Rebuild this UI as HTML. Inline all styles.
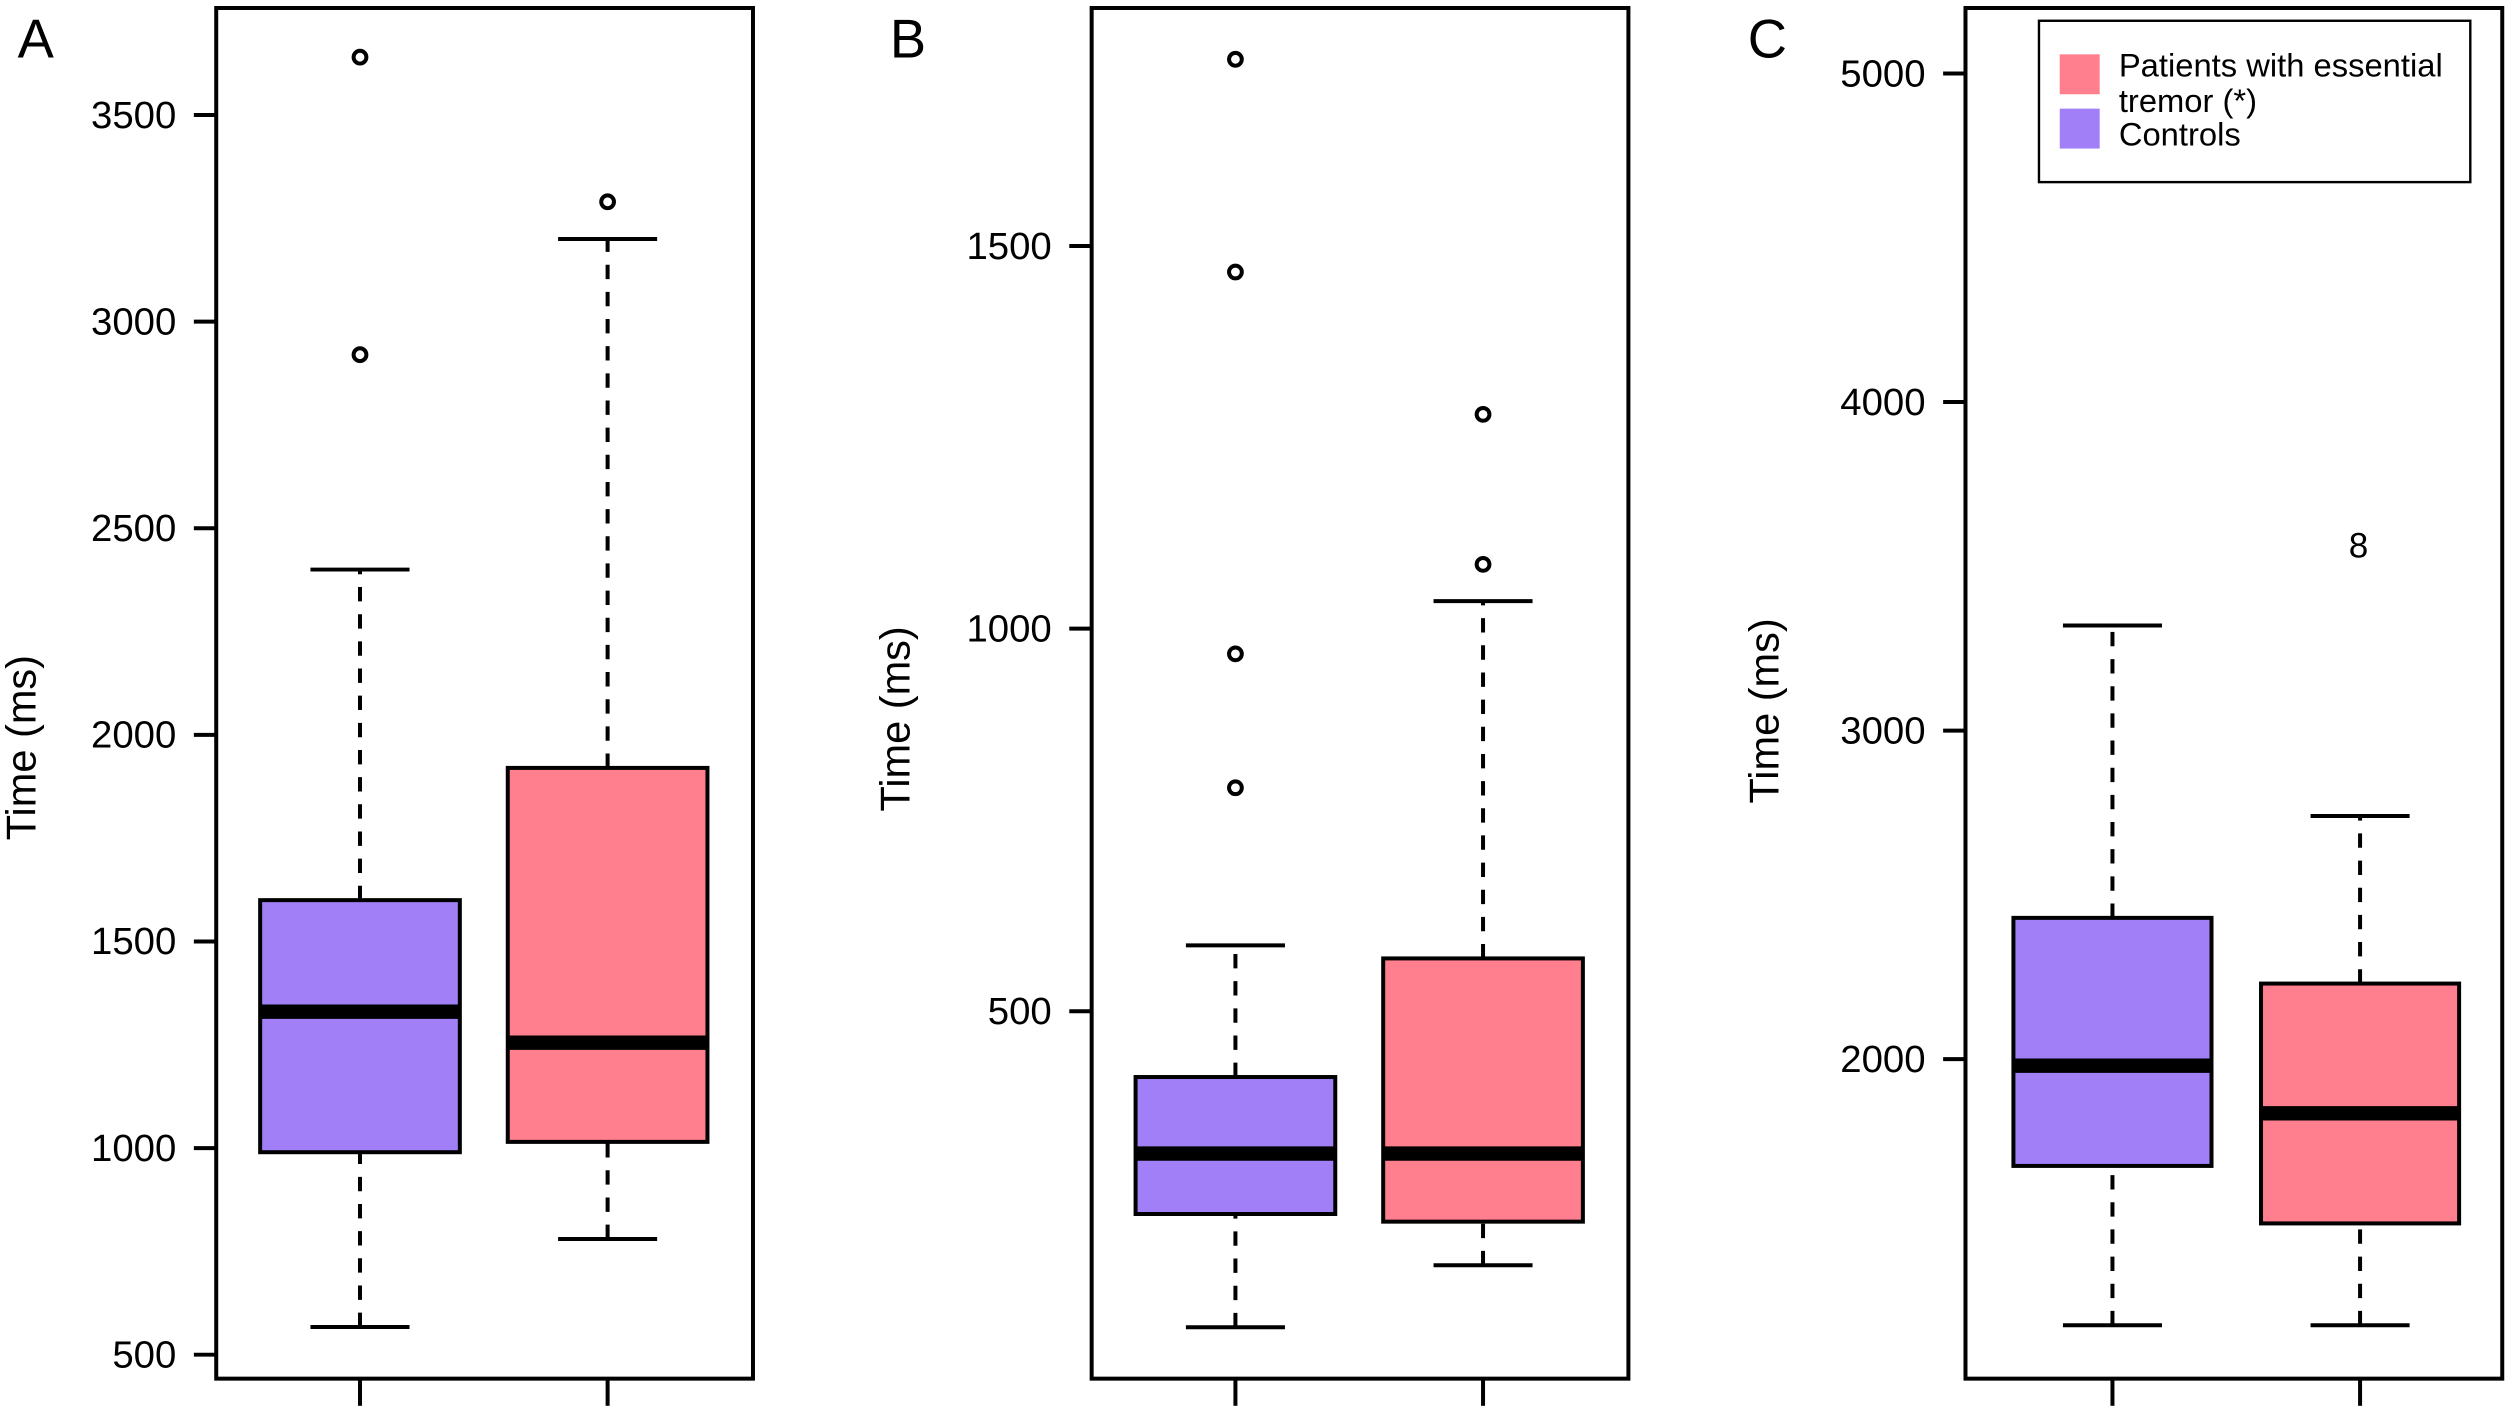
<!DOCTYPE html>
<html><head><meta charset="utf-8"><style>
html,body{margin:0;padding:0;background:#fff}
svg{display:block}
text{font-family:"Liberation Sans",sans-serif;fill:#000}
</style></head><body>
<svg id="chart" width="2506" height="1409" viewBox="0 0 1568 882" xmlns="http://www.w3.org/2000/svg"></svg>
<script>
const panelLabels = ["A","B","C"];
const tickLabelsA = [500,1000,1500,2000,2500,3000,3500];
const tickLabelsB = [500,1000,1500];
const tickLabelsC = [2000,3000,4000,5000];
const groupNames = ["Controls","Patients with essential tremor (*)"];
// [low whisker, q1, median, q3, high whisker]
const statsA = [[567,990,1330,1600,2400],[780,1015,1255,1920,3200]];
const outliersA = [[2920,3640],[3290]];
const statsB = [[87,235,314,414,586],[168,225,314,569,1036]];
const outliersB = [[792,967,1466,1744],[1084,1280]];
const statsC = [[1190,1675,1980,2430,3320],[1190,1500,1835,2230,2740]];
const outliersC = [[],[]];

const svg = document.getElementById('chart');
const NS = "http://www.w3.org/2000/svg";
function mk(tag, attrs, parent){const e=document.createElementNS(NS,tag);for(const k in attrs)e.setAttribute(k,attrs[k]);(parent||svg).appendChild(e);return e;}
const colors=["#a07ff7","#ff7f8e"];
const panels=[
 {x0:135,x1:471,ticks:tickLabelsA,stats:statsA,out:outliersA,v0:500,y0:848,v1:3500,y1:72,lab:"A",labX:22,ylX:22,cx:[225,380],bw:125},
 {x0:683,x1:1019,ticks:tickLabelsB,stats:statsB,out:outliersB,v0:500,y0:633,v1:1500,y1:154,lab:"B",labX:568,ylX:569,cx:[773,928],bw:125},
 {x0:1230,x1:1566,ticks:tickLabelsC,stats:statsC,out:outliersC,v0:2000,y0:663,v1:5000,y1:46,lab:"C",labX:1106,ylX:1113,cx:[1322,1477],bw:124}
];
panels.forEach((p,pi)=>{
 const g=mk('g',{});
 
 
 const y=v=>p.y0+(v-p.v0)*(p.y1-p.y0)/(p.v1-p.v0);
 const t=mk('text',{x:p.labX,y:36,'font-size':34,'text-anchor':'middle'},g);t.textContent=panelLabels[pi];
 
 
 const fr=mk('rect',{x:p.x0,y:5,width:p.x1-p.x0,height:858,fill:'none',stroke:'#000','stroke-width':2.5},g);
 
 
 p.ticks.forEach(v=>{
  mk('line',{x1:p.x0-14,x2:p.x0,y1:y(v),y2:y(v),stroke:'#000','stroke-width':2.5},g);
  const tl=mk('text',{x:p.x0-25,y:y(v)+8,'font-size':24,'text-anchor':'end'},g);tl.textContent=v;
  
  
 });
 const yl=mk('text',{x:0,y:0,'font-size':26,'text-anchor':'middle',transform:`translate(${p.ylX},${pi==1?450:pi==2?445:468}) rotate(-90)`},g);yl.textContent="Time (ms)";
 
 
 p.stats.forEach((s,i)=>{
  const cx=p.cx[i],h=p.bw/2;
  mk('line',{x1:cx,x2:cx,y1:863,y2:880,stroke:'#000','stroke-width':2.5},g);
  mk('line',{x1:cx,x2:cx,y1:y(s[0]),y2:y(s[1]),stroke:'#000','stroke-width':2.5,'stroke-dasharray':'9,8'},g);
  mk('line',{x1:cx,x2:cx,y1:y(s[3]),y2:y(s[4]),stroke:'#000','stroke-width':2.5,'stroke-dasharray':'9,8'},g);
  mk('line',{x1:cx-31,x2:cx+31,y1:y(s[0]),y2:y(s[0]),stroke:'#000','stroke-width':2.5},g);
  mk('line',{x1:cx-31,x2:cx+31,y1:y(s[4]),y2:y(s[4]),stroke:'#000','stroke-width':2.5},g);
  const b=mk('rect',{x:cx-h,y:y(s[3]),width:p.bw,height:y(s[1])-y(s[3]),fill:colors[i],stroke:'#000','stroke-width':2.5},g);
  
  
  mk('line',{x1:cx-h,x2:cx+h,y1:y(s[2]),y2:y(s[2]),stroke:'#000','stroke-width':9},g);
  p.out[i].forEach(o=>{
   const c=mk('circle',{cx:cx,cy:y(o),r:4,fill:'#fff',stroke:'#000','stroke-width':2.5},g);
   
   
  });
 });
});
const eight=mk('text',{x:1476,y:349,'font-size':22,'text-anchor':'middle'});eight.textContent="8";


const lg=mk('g',{});


mk('rect',{x:1276,y:13,width:270,height:101,fill:'#fff',stroke:'#000','stroke-width':1.5},lg);
mk('rect',{x:1289,y:34,width:25,height:25,fill:colors[1]},lg);
mk('rect',{x:1289,y:68,width:25,height:25,fill:colors[0]},lg);
[["Patients with essential",48],["tremor (*)",70],["Controls",91]].forEach(([s,yy])=>{const t=mk('text',{x:1326,y:yy,'font-size':20.5},lg);t.textContent=s;
 
 });
</script>
</body></html>
